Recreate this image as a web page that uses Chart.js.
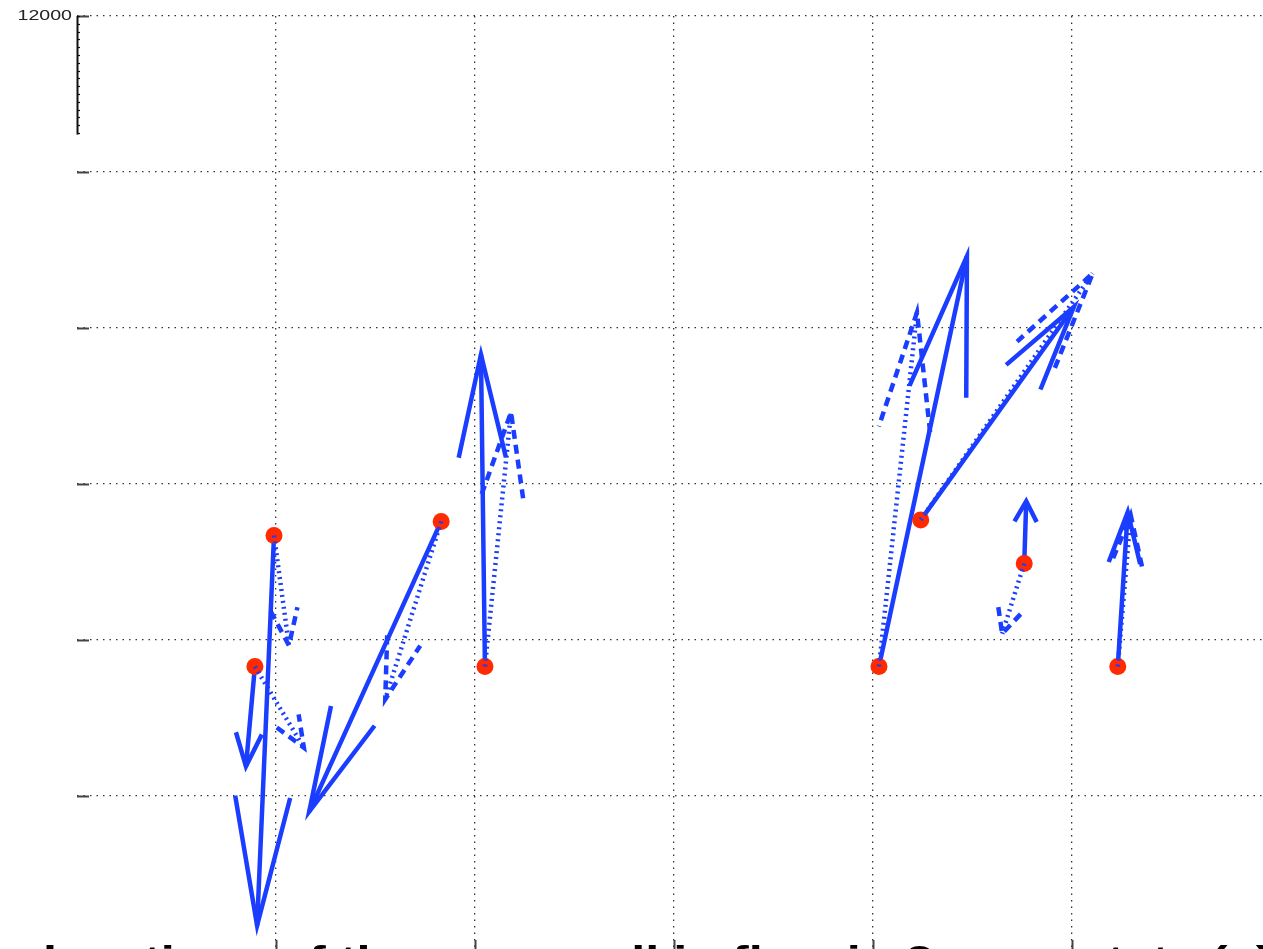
<!DOCTYPE html>
<html>
<head>
<meta charset="utf-8">
<script src="https://cdn.jsdelivr.net/npm/chart.js@4/dist/chart.umd.min.js"></script>
<style>
  html, body { margin: 0; padding: 0; background: #fff; overflow: hidden; }
  #quiverChart { position: absolute; left: 0; top: 0; }
</style>
</head>
<body>
<canvas id="quiverChart" width="1480" height="1000"></canvas>
<script>
// arrow origins
const baseX = [0.894, 0.99, 1.83, 2.05, 4.03, 4.24, 4.76, 5.23];
const baseY = [7830, 8670, 8760, 7830, 7830, 8770, 8490, 7830];

// solid arrows (u, v components)
const solidU = [-0.045, -0.085, -0.663, -0.02, 0.442, 0.769, 0.01, 0.05];
const solidV = [-640, -2500, -1860, 2000, 2630, 1365, 400, 990];

// dotted arrows (u, v components)
const dotU = [0.246, 0.075, -0.281, 0.131, 0.191, 0.864, -0.111, 0.065];
const dotV = [-520, -705, -1140, 1630, 2270, 1580, -450, 970];

// axis ticks
const xTicks = [1, 2, 3, 4, 5, 6];
const yTicks = [6000, 7000, 8000, 9000, 10000, 11000, 12000];
const yLabels = { 12000: "12000" };

const bottomText = "locations of the mean cell in flow in 2 rows state (a)";

const BLUE = "#1a3dff";
const RED = "#ff2a00";

// base -> tip pairs, separated by a gap point
function arrowData(u, v) {
  const pts = [];
  baseX.forEach((x, i) => {
    pts.push({ x: x, y: baseY[i] });
    pts.push({ x: x + u[i], y: baseY[i] + v[i] });
    pts.push({ x: x, y: null });
  });
  return pts;
}

const arrowHeads = {
  id: "arrowHeads",
  afterDatasetDraw(chart, args) {
    const ds = chart.data.datasets[args.index];
    if (!ds.arrow) return;
    const pts = args.meta.data;
    const ctx = chart.ctx;
    ctx.save();
    ctx.strokeStyle = ds.borderColor;
    ctx.lineWidth = ds.borderWidth;
    ctx.setLineDash(ds.headDash || []);
    ctx.lineCap = "butt";
    for (let i = 0; i + 1 < pts.length; i += 3) {
      const p0 = pts[i], p1 = pts[i + 1];
      const dx = p1.x - p0.x, dy = p1.y - p0.y;
      const len = Math.hypot(dx, dy);
      if (!len) continue;
      const ux = dx / len, uy = dy / len;
      const hl = 0.33 * len, hw = 8 + 0.05 * len;
      const bx = p1.x - ux * hl, by = p1.y - uy * hl;
      ctx.beginPath();
      ctx.moveTo(bx - uy * hw, by + ux * hw);
      ctx.lineTo(p1.x, p1.y);
      ctx.lineTo(bx + uy * hw, by - ux * hw);
      ctx.stroke();
    }
    ctx.restore();
  }
};

const axisDecor = {
  id: "axisDecor",
  afterDraw(chart) {
    const ctx = chart.ctx;
    const xs = chart.scales.x, ys = chart.scales.y;
    const left = chart.chartArea.left, bottom = chart.chartArea.bottom;
    ctx.save();
    // tick stubs
    ctx.strokeStyle = "#444";
    ctx.lineWidth = 2;
    yTicks.forEach(v => {
      const py = Math.round(ys.getPixelForValue(v)) + 0.5;
      ctx.beginPath();
      ctx.moveTo(left, py);
      ctx.lineTo(left + 12, py);
      ctx.stroke();
    });
    xTicks.forEach(v => {
      const px = Math.round(xs.getPixelForValue(v)) + 0.5;
      ctx.beginPath();
      ctx.moveTo(px, bottom);
      ctx.lineTo(px, bottom - 12);
      ctx.stroke();
    });
    // short spine with minor ticks
    const spineEnd = ys.getPixelForValue(11240);
    ctx.strokeStyle = "#111";
    ctx.beginPath();
    ctx.moveTo(left + 0.5, ys.getPixelForValue(12000));
    ctx.lineTo(left + 0.5, spineEnd);
    ctx.stroke();
    ctx.lineWidth = 1.2;
    for (let v = 12000; v >= 11250; v -= 50) {
      const py = Math.round(ys.getPixelForValue(v)) + 0.5;
      ctx.beginPath();
      ctx.moveTo(left, py);
      ctx.lineTo(left + 3, py);
      ctx.stroke();
    }
    // tick labels
    ctx.fillStyle = "#222";
    ctx.font = '14px "Liberation Sans", Arial, sans-serif';
    ctx.textAlign = "right";
    ctx.textBaseline = "middle";
    Object.keys(yLabels).forEach(k => {
      ctx.save();
      ctx.translate(left - 5, ys.getPixelForValue(+k));
      ctx.scale(1.4, 1);
      ctx.fillText(yLabels[k], 0, 0);
      ctx.restore();
    });
    // axis caption, mostly below the visible area
    ctx.fillStyle = "#000";
    ctx.font = 'bold 36px "Liberation Sans", Arial, sans-serif';
    ctx.textAlign = "left";
    ctx.textBaseline = "alphabetic";
    ctx.translate(43, bottom + 20);
    ctx.scale(1.4, 1);
    ctx.fillText(bottomText, 0, 0);
    ctx.restore();
  }
};

const gridColor = (c) => (c.tick && (c.tick.value === 0) ? "rgba(0,0,0,0)" : "#333");

new Chart(document.getElementById("quiverChart"), {
  type: "scatter",
  data: {
    datasets: [
      {
        label: "solid",
        data: arrowData(solidU, solidV),
        showLine: true,
        spanGaps: false,
        borderColor: BLUE,
        borderWidth: 4.5,
        pointRadius: 0,
        arrow: true,
        order: 3,
      },
      {
        label: "origin",
        data: baseX.map((x, i) => ({ x: x, y: baseY[i] })),
        showLine: false,
        pointRadius: 8.5,
        pointHoverRadius: 8.5,
        pointBackgroundColor: RED,
        pointBorderWidth: 0,
        order: 2,
      },
      {
        label: "dotted",
        data: arrowData(dotU, dotV),
        showLine: true,
        spanGaps: false,
        borderColor: BLUE,
        borderWidth: 4.5,
        borderDash: [2, 4],
        borderCapStyle: "butt",
        headDash: [9, 6],
        pointRadius: 0,
        arrow: true,
        order: 1,
      },
    ],
  },
  options: {
    responsive: false,
    animation: false,
    events: [],
    layout: { padding: { left: 77, top: 16, right: 10, bottom: 48 } },
    plugins: { legend: { display: false }, tooltip: { enabled: false } },
    scales: {
      x: {
        type: "linear",
        min: 0,
        max: 7,
        ticks: { display: false, stepSize: 1 },
        grid: { color: gridColor, lineWidth: 1.3, drawTicks: false },
        border: { display: false, dash: [1.5, 5] },
        afterFit: (s) => { s.height = 0; },
      },
      y: {
        type: "linear",
        min: 6000,
        max: 12000,
        ticks: { display: false, stepSize: 1000 },
        grid: { color: "#333", lineWidth: 1.3, drawTicks: false },
        border: { display: false, dash: [1.5, 5] },
        afterFit: (s) => { s.width = 0; },
      },
    },
  },
  plugins: [arrowHeads, axisDecor],
});
</script>
</body>
</html>
